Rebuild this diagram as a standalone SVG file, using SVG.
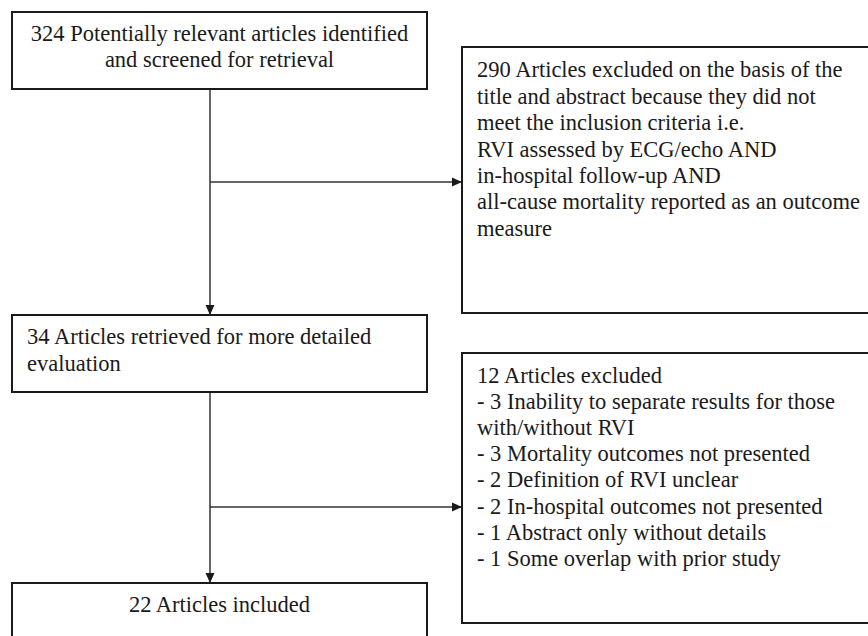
<svg xmlns="http://www.w3.org/2000/svg" width="868" height="636" viewBox="0 0 868 636">
<defs>
<marker id="arr" markerWidth="10" markerHeight="10" refX="10" refY="5" orient="auto" markerUnits="userSpaceOnUse">
<path d="M0,0.5 L10,5 L0,9.5 Z" fill="#1a1a1a"/>
</marker>
<style>
.box{fill:#fff;stroke:#1a1a1a;stroke-width:2}
.t{font-family:"Liberation Serif","Times New Roman",serif;font-size:22.5px;fill:#1a1a1a}
.c{text-anchor:middle}
.ln{fill:none;stroke:#333;stroke-width:1.5}
</style>
</defs>
<rect width="868" height="636" fill="#fff"/>
<g id="connectors">
<line class="ln" x1="210" y1="89" x2="210" y2="315" marker-end="url(#arr)"/>
<line class="ln" x1="210" y1="182" x2="462" y2="182" marker-end="url(#arr)"/>
<line class="ln" x1="210" y1="392" x2="210" y2="583" marker-end="url(#arr)"/>
<line class="ln" x1="210" y1="507" x2="462" y2="507" marker-end="url(#arr)"/>
</g>
<g id="n1">
<rect class="box" x="12" y="12" width="415" height="77"/>
<text class="t c" x="219.5" y="41">324 Potentially relevant articles identified</text>
<text class="t c" x="219.5" y="67">and screened for retrieval</text>
</g>
<g id="n2">
<rect class="box" x="462" y="47" width="420" height="266"/>
<text class="t" x="477" y="77">290 Articles excluded on the basis of the</text>
<text class="t" x="477" y="104">title and abstract because they did not</text>
<text class="t" x="477" y="130">meet the inclusion criteria i.e.</text>
<text class="t" x="477" y="157">RVI assessed by ECG/echo AND</text>
<text class="t" x="477" y="183">in-hospital follow-up AND</text>
<text class="t" x="477" y="209">all-cause mortality reported as an outcome</text>
<text class="t" x="477" y="236">measure</text>
</g>
<g id="n3">
<rect class="box" x="12" y="315" width="415" height="77"/>
<text class="t" x="27" y="344">34 Articles retrieved for more detailed</text>
<text class="t" x="27" y="371">evaluation</text>
</g>
<g id="n4">
<rect class="box" x="462" y="353" width="420" height="270"/>
<text class="t" x="477" y="383">12 Articles excluded</text>
<text class="t" x="477" y="409">- 3 Inability to separate results for those</text>
<text class="t" x="477" y="435">with/without RVI</text>
<text class="t" x="477" y="461">- 3 Mortality outcomes not presented</text>
<text class="t" x="477" y="487">- 2 Definition of RVI unclear</text>
<text class="t" x="477" y="514">- 2 In-hospital outcomes not presented</text>
<text class="t" x="477" y="540">- 1 Abstract only without details</text>
<text class="t" x="477" y="566">- 1 Some overlap with prior study</text>
</g>
<g id="n5">
<rect class="box" x="12" y="583" width="415" height="70"/>
<text class="t c" x="219.5" y="612">22 Articles included</text>
</g>
</svg>
